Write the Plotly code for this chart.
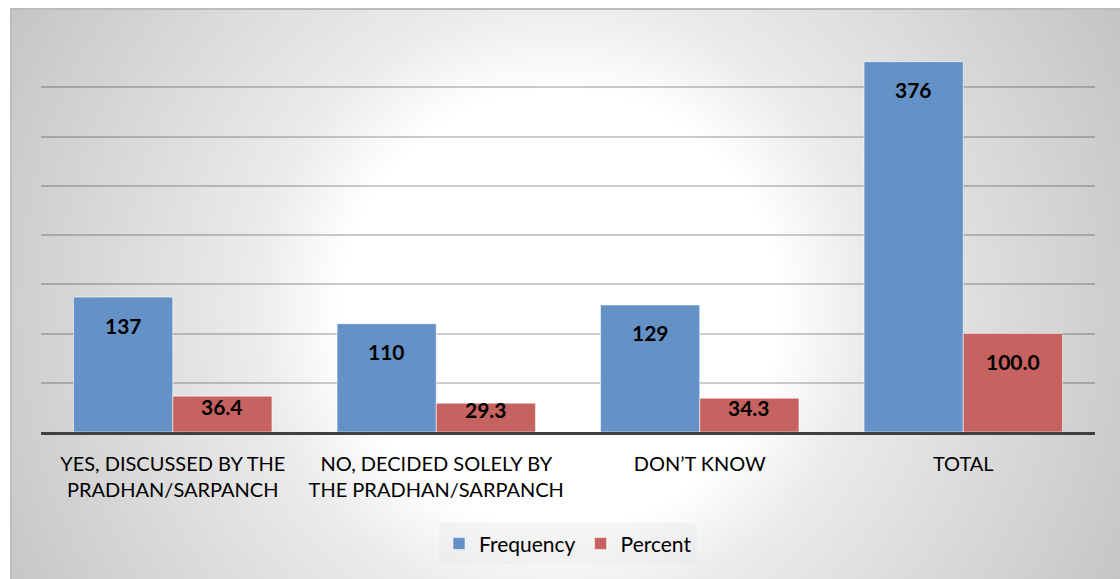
import base64
import plotly.graph_objects as go

# Survey responses: was the decision discussed in the Gram Sabha?
categories = [
    "YES, DISCUSSED BY THE<br>PRADHAN/SARPANCH",
    "NO, DECIDED SOLELY BY<br>THE PRADHAN/SARPANCH",
    "DON\u2019T KNOW",
    "TOTAL",
]
frequency = [137, 110, 129, 376]
percent = [36.4, 29.3, 34.3, 100.0]
percent_labels = ["36.4", "29.3", "34.3", "100.0"]

W, H = 1120, 579
M_L, M_R, M_T, M_B = 41, 25, 38, 147
Y_MAX = 400
BAR_GAP = 0.247

BLUE = "#6592C6"
RED = "#C6625F"
FONT = "Lato, 'Open Sans', Arial, sans-serif"

# Radial grey-to-white backdrop with a thin frame on the top and left edges
bg_w, bg_h = W - 10, H - 8
svg = f"""<svg xmlns='http://www.w3.org/2000/svg' width='{bg_w}' height='{bg_h}' viewBox='0 0 {bg_w} {bg_h}'>
<defs><radialGradient id='g' gradientUnits='userSpaceOnUse' cx='550' cy='300' r='640'>
<stop offset='0' stop-color='#ffffff'/>
<stop offset='0.34' stop-color='#ffffff'/>
<stop offset='0.48' stop-color='#ebebeb'/>
<stop offset='0.85' stop-color='#cfcfcf'/>
<stop offset='1' stop-color='#c3c3c3'/>
</radialGradient></defs>
<rect x='0' y='0' width='{bg_w}' height='{bg_h}' fill='url(#g)'/>
<line x1='0' y1='1' x2='{bg_w}' y2='1' stroke='#bcbcbc' stroke-width='2'/>
<line x1='1' y1='0' x2='1' y2='{bg_h}' stroke='#bcbcbc' stroke-width='2'/>
</svg>"""
bg_src = "data:image/svg+xml;base64," + base64.b64encode(svg.encode()).decode()

plot_w = W - M_L - M_R
plot_h = H - M_T - M_B

fig = go.Figure()
fig.add_trace(go.Bar(
    name="Frequency", x=categories, y=frequency,
    marker=dict(color=BLUE, line=dict(color="rgba(255,255,255,0.55)", width=1)),
    hoverinfo="skip",
))
fig.add_trace(go.Bar(
    name="Percent", x=categories, y=percent,
    marker=dict(color=RED, line=dict(color="rgba(255,255,255,0.55)", width=1)),
    hoverinfo="skip",
))

# Value labels near the top inside each bar
px_per_unit = plot_h / Y_MAX
slot = plot_w / len(categories)
bar_w = slot * (1 - BAR_GAP) / 2
annotations = []
for series, labels, side in ((frequency, [str(v) for v in frequency], -1),
                             (percent, percent_labels, 1)):
    for cat, val, lab in zip(categories, series, labels):
        bar_px = val * px_per_unit
        drop = min(28, bar_px / 2 - 8)
        annotations.append(dict(
            x=cat, y=val, xref="x", yref="y", text=f"<b>{lab}</b>",
            showarrow=False, xanchor="center", yanchor="middle",
            xshift=side * bar_w / 2, yshift=-drop,
            font=dict(family=FONT, size=21, color="#000000"),
        ))

fig.update_layout(
    width=W, height=H,
    margin=dict(l=M_L, r=M_R, t=M_T, b=M_B, pad=0),
    paper_bgcolor="#ffffff",
    plot_bgcolor="rgba(0,0,0,0)",
    barmode="group", bargap=BAR_GAP, bargroupgap=0,
    font=dict(family=FONT, size=20, color="#000000"),
    showlegend=True,
    legend=dict(
        orientation="h", x=0.5, xanchor="center", y=-0.232, yanchor="top",
        bgcolor="rgba(230,230,230,0.35)", font=dict(family=FONT, size=21, color="#000000"),
        itemclick=False, itemdoubleclick=False,
    ),
    xaxis=dict(
        showgrid=False, showline=True, linecolor="#404040", linewidth=3,
        ticks="", tickfont=dict(family=FONT, size=20, color="#000000"),
        ticklabelstandoff=12, fixedrange=True,
    ),
    yaxis=dict(
        range=[0, Y_MAX], dtick=50, showticklabels=False, ticks="",
        showgrid=True, gridcolor="rgba(0,0,0,0.2)", gridwidth=1.5,
        zeroline=False, showline=False, fixedrange=True,
    ),
    images=[dict(
        source=bg_src, xref="paper", yref="paper",
        x=(10 - M_L) / plot_w, y=(H - M_B - 8) / plot_h,
        sizex=bg_w / plot_w, sizey=bg_h / plot_h,
        xanchor="left", yanchor="top", sizing="stretch", layer="below",
    )],
    annotations=annotations,
)

fig.write_html("out.html", config={"displayModeBar": False})
